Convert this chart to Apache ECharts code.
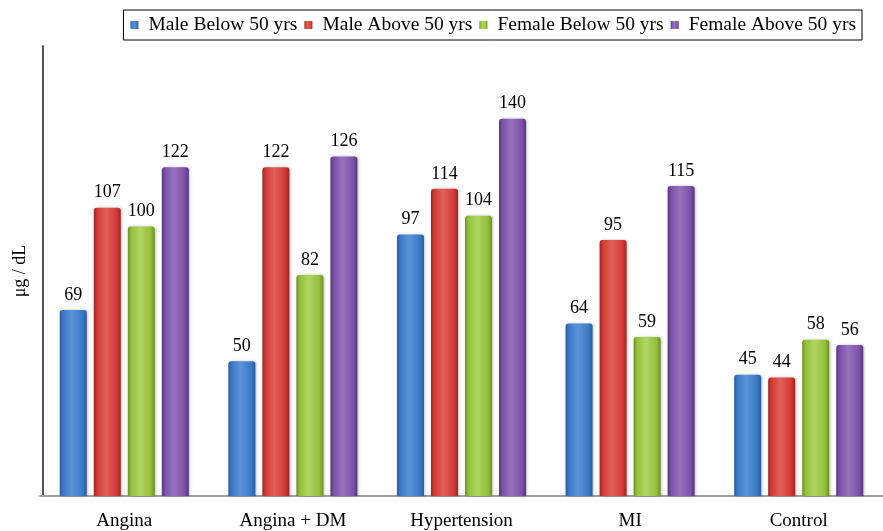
<!DOCTYPE html>
<html>
<head>
<meta charset="utf-8">
<script src="https://cdn.jsdelivr.net/npm/echarts@6/dist/echarts.min.js"></script>
<style>
  html, body { margin: 0; padding: 0; background: #fff; }
  #chart { width: 883px; height: 531px; }
</style>
</head>
<body>
<div id="chart"></div>
<script>
// Categories and values (μg / dL)
const categories = ['Angina', 'Angina + DM', 'Hypertension', 'MI', 'Control'];
const seriesNames = ['Male Below 50 yrs', 'Male Above 50 yrs', 'Female Below 50 yrs', 'Female Above 50 yrs'];
const maleBelow50 = [69, 50, 97, 64, 45];
const maleAbove50 = [107, 122, 114, 95, 44];
const femaleBelow50 = [100, 82, 104, 59, 58];
const femaleAbove50 = [122, 126, 140, 115, 56];
const seriesData = [maleBelow50, maleAbove50, femaleBelow50, femaleAbove50];

// Bevel-like shading per series: [edge, body, highlight]
const palettes = [
  ['#2a5a9c', '#3b78c6', '#5a94d8'],
  ['#9c2424', '#d23a36', '#e2605a'],
  ['#6c8f22', '#93bf3c', '#b0d660'],
  ['#55357c', '#7b51a6', '#9872bf']
];

function barFill(p) {
  return new echarts.graphic.LinearGradient(0, 0, 1, 0, [
    { offset: 0, color: p[0] },
    { offset: 0.12, color: p[1] },
    { offset: 0.45, color: p[2] },
    { offset: 0.85, color: p[1] },
    { offset: 1, color: p[0] }
  ]);
}

const font = '"Liberation Serif", "Times New Roman", serif';

const chart = echarts.init(document.getElementById('chart'));
chart.setOption({
  animation: false,
  textStyle: { fontFamily: font },
  legend: {
    data: seriesNames,
    right: 21,
    top: 10,
    padding: [4, 6, 4, 7],
    itemGap: 7,
    itemWidth: 8,
    itemHeight: 8,
    borderColor: '#000',
    borderWidth: 1,
    icon: 'rect',
    textStyle: { fontFamily: font, fontSize: 19.5, color: '#000', lineHeight: 22, padding: [0, 0, 0, 5] }
  },
  grid: { left: 40, top: 46, width: 850, height: 451 },
  xAxis: {
    type: 'category',
    data: categories,
    axisLine: { lineStyle: { color: '#a0a0a0', width: 2 } },
    axisTick: { show: false },
    axisLabel: { fontFamily: font, fontSize: 19, color: '#000', margin: 16 }
  },
  yAxis: {
    type: 'value',
    min: 0,
    max: 167,
    offset: -3,
    name: 'μg / dL',
    nameLocation: 'middle',
    nameGap: 14,
    nameTextStyle: { fontFamily: font, fontSize: 18, color: '#000' },
    axisLine: { show: true, lineStyle: { color: '#555', width: 2 } },
    axisTick: { show: false },
    axisLabel: { show: false },
    splitLine: { show: false }
  },
  series: seriesNames.map((name, i) => ({
    name: name,
    type: 'bar',
    data: seriesData[i],
    barWidth: 27,
    barGap: '26%',
    itemStyle: {
      color: barFill(palettes[i]),
      borderRadius: [3, 3, 0, 0],
      shadowColor: 'rgba(0,0,0,0.25)',
      shadowBlur: 3,
      shadowOffsetX: 1
    },
    label: {
      show: true,
      position: 'top',
      distance: 6,
      fontFamily: font,
      fontSize: 18,
      color: '#000'
    }
  }))
});
</script>
</body>
</html>
